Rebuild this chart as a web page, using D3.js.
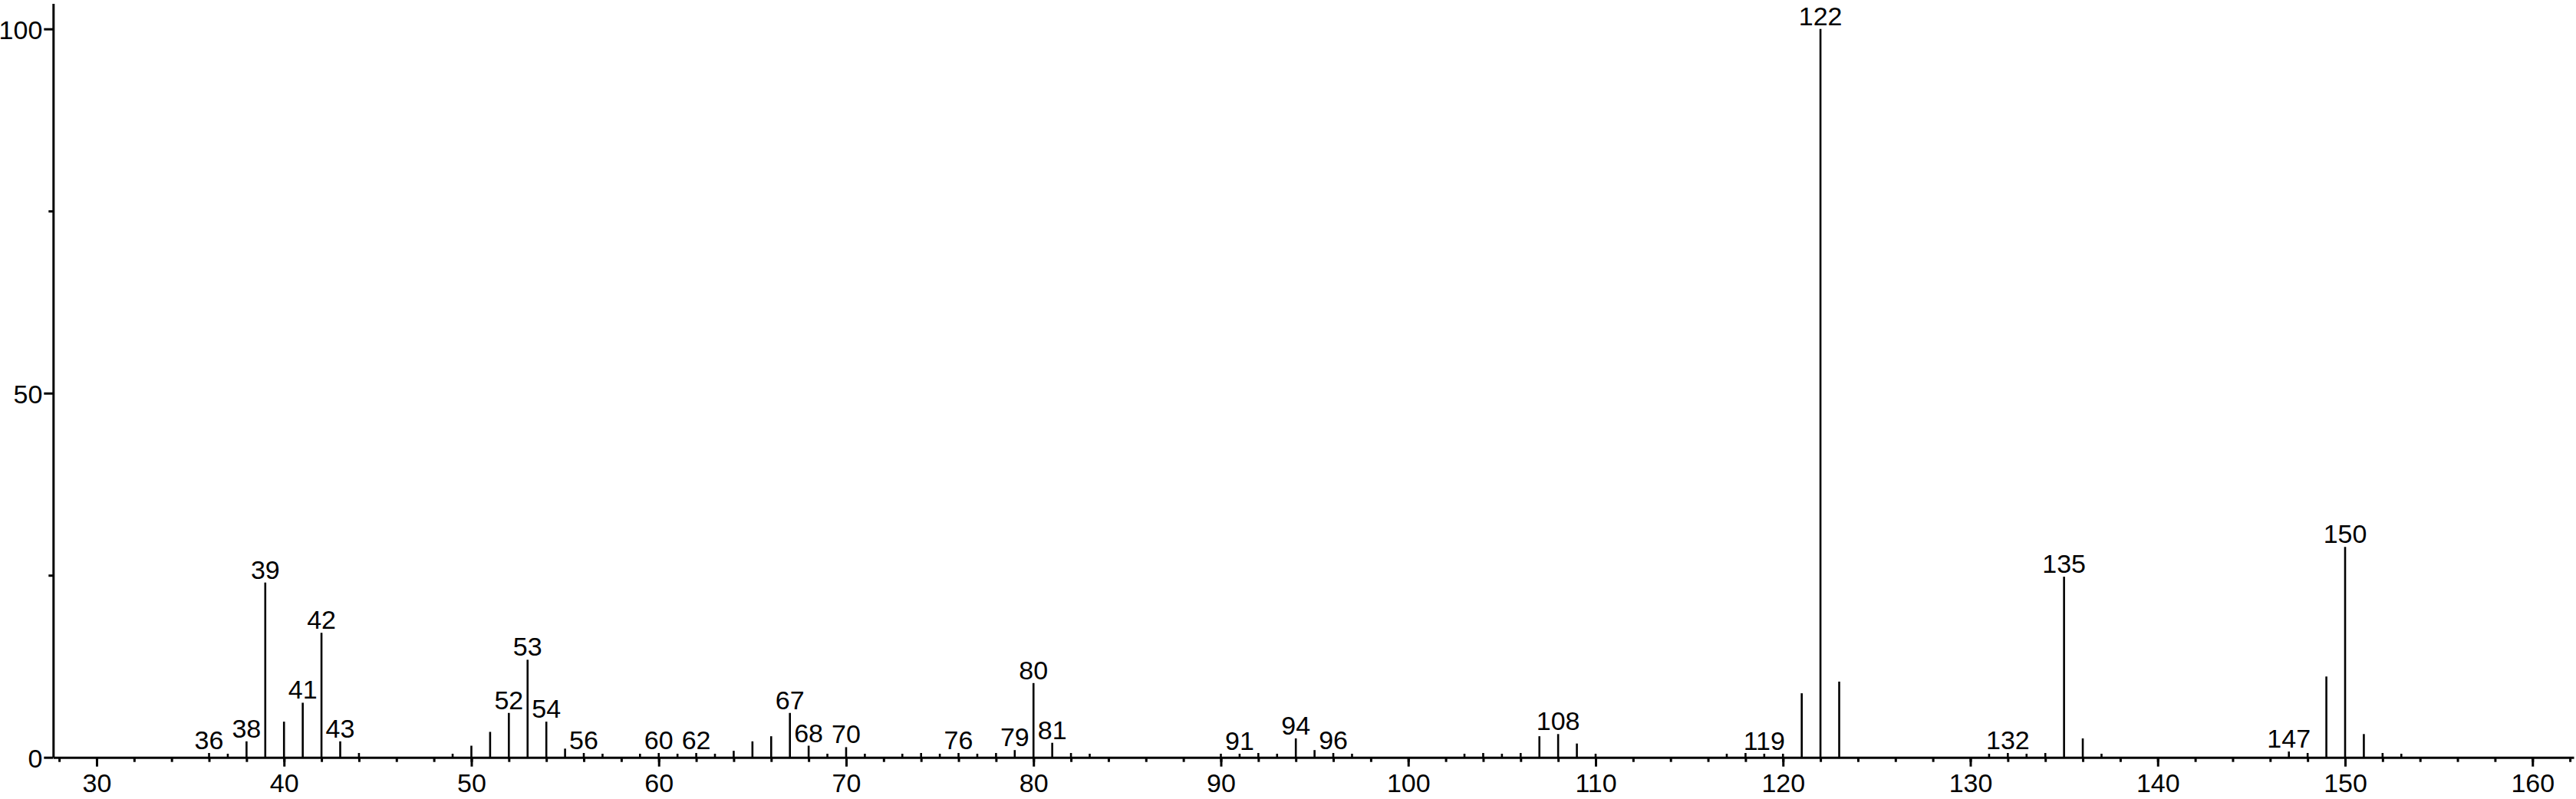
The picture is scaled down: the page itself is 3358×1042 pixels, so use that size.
<!DOCTYPE html>
<html>
<head>
<meta charset="utf-8">
<script src="https://cdn.jsdelivr.net/npm/d3@7"></script>
<style>
  html, body { margin: 0; padding: 0; background: #fff; }
  svg { display: block; font-family: "Liberation Sans", Arial, sans-serif; }
  .axis path, .axis line { stroke: #000; stroke-width: 3; }
  .axis text { font-size: 34px; fill: #000; font-family: "Liberation Sans", Arial, sans-serif; }
</style>
</head>
<body>
<svg id="chart" width="3358" height="1042"></svg>
<script>
// m/z of each peak and its relative intensity (%)
const mz = [36, 37, 38, 39, 40, 41, 42, 43, 44, 49, 50, 51, 52, 53, 54, 55, 56, 57, 59, 60,
  61, 62, 63, 64, 65, 66, 67, 68, 69, 70, 71, 73, 74, 75, 76, 77, 78, 79, 80, 81,
  82, 83, 90, 91, 92, 93, 94, 95, 96, 97, 103, 104, 105, 106, 107, 108, 109, 110, 117, 118,
  119, 120, 121, 122, 123, 131, 132, 133, 134, 135, 136, 137, 147, 148, 149, 150, 151, 152, 153];
const intensity = [0.6, 0.5, 2.2, 24.0, 4.9, 7.5, 17.1, 2.2, 0.6, 0.5, 1.6, 3.5, 6.1, 13.4, 4.9, 1.2, 0.6, 0.5, 0.5, 0.6,
  0.5, 0.6, 0.5, 0.9, 2.2, 2.9, 6.1, 1.6, 0.5, 1.4, 0.5, 0.5, 0.6, 0.5, 0.6, 0.5, 0.6, 1.0, 10.2, 2.0,
  0.6, 0.5, 0.5, 0.5, 0.6, 0.5, 2.6, 1.0, 0.6, 0.5, 0.5, 0.6, 0.5, 0.6, 2.9, 3.2, 1.9, 0.5, 0.5, 0.6,
  0.5, 0.5, 8.8, 100, 10.4, 0.5, 0.6, 0.5, 0.6, 24.8, 2.6, 0.5, 0.8, 0.6, 11.1, 28.9, 3.2, 0.6, 0.5];
// peaks that carry an m/z label
const labeledPeaks = [36, 38, 39, 41, 42, 43, 52, 53, 54, 56, 60, 62, 67, 68, 70, 76, 79, 80, 81,
  91, 94, 96, 108, 119, 122, 132, 135, 147, 150];

const xMajorTicks = [30, 40, 50, 60, 70, 80, 90, 100, 110, 120, 130, 140, 150, 160];
const xMinorTicks = d3.range(28, 163, 2);
const yMajorTicks = [0, 50, 100];
const yMinorTicks = [25, 75];

(function () {
  var svg = d3.select("#chart");

  var x = d3.scaleLinear().domain([27.68, 162.2]).range([69.3, 3355]);
  var y = d3.scaleLinear().domain([0, 100]).range([987.7, 37.7]);
  var yTop = 103.5;

  var peaks = mz.map(function (m, i) {
    return { mz: m, value: intensity[i] };
  });

  // x axis: minor ticks every 2, major every 10
  svg.append("g")
    .attr("class", "axis")
    .attr("transform", "translate(0," + y(0) + ")")
    .call(d3.axisBottom(x).tickValues(xMinorTicks).tickSize(6).tickSizeOuter(0).tickFormat(""))
    .call(function (g) { g.select(".domain").remove(); });

  svg.append("g")
    .attr("class", "axis")
    .attr("transform", "translate(0," + y(0) + ")")
    .call(d3.axisBottom(x).tickValues(xMajorTicks).tickSize(12).tickSizeOuter(0).tickPadding(9));

  // y axis
  var yAxisScale = y.copy().domain([0, yTop]).range([y(0), y(yTop)]);
  svg.append("g")
    .attr("class", "axis")
    .attr("transform", "translate(" + x.range()[0] + ",0)")
    .call(d3.axisLeft(yAxisScale).tickValues(yMinorTicks).tickSize(6).tickSizeOuter(0).tickFormat(""))
    .call(function (g) { g.select(".domain").remove(); });

  var yAxis = svg.append("g")
    .attr("class", "axis")
    .attr("transform", "translate(" + x.range()[0] + ",0)")
    .call(d3.axisLeft(yAxisScale).tickValues(yMajorTicks).tickSize(12).tickSizeOuter(0).tickPadding(2));
  yAxis.selectAll("text").attr("dy", "0.38em");

  // peak sticks
  svg.append("g")
    .selectAll("line")
    .data(peaks)
    .enter()
    .append("line")
    .attr("x1", function (d) { return x(d.mz); })
    .attr("x2", function (d) { return x(d.mz); })
    .attr("y1", y(0))
    .attr("y2", function (d) { return y(d.value); })
    .attr("stroke", "#000")
    .attr("stroke-width", 2.6);

  // peak labels
  svg.append("g")
    .selectAll("text")
    .data(peaks.filter(function (d) { return labeledPeaks.indexOf(d.mz) >= 0; }))
    .enter()
    .append("text")
    .attr("x", function (d) { return x(d.mz); })
    .attr("y", function (d) { return y(d.value) - 5; })
    .attr("text-anchor", "middle")
    .attr("font-size", 34)
    .attr("fill", "#000")
    .text(function (d) { return d.mz; });
})();
</script>
</body>
</html>
